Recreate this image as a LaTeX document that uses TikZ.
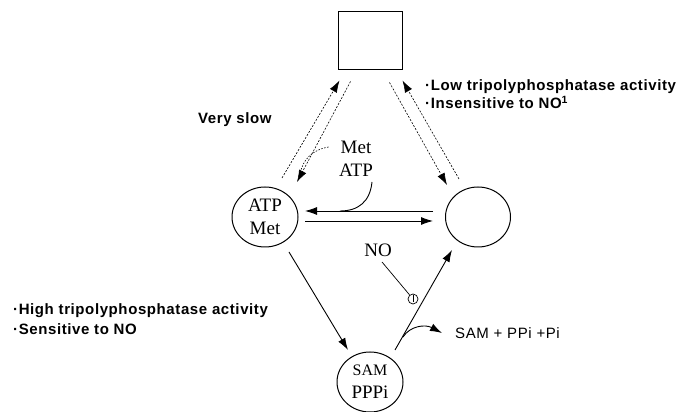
\documentclass[tikz,border=0pt]{standalone}
\usepackage{fontspec}
\setmainfont{Liberation Serif}
\newfontfamily\notefont{Liberation Sans}[LetterSpace=4]
\newfontfamily\prodfont{Liberation Sans}[LetterSpace=4]
\usetikzlibrary{arrows.meta,shapes.geometric}
\tikzset{
  pool/.style={ellipse,draw,line width=1pt,minimum width=66pt,minimum height=60pt,inner sep=0pt,align=center,font=\fontsize{19}{23}\selectfont},
  flow/.style={line width=0.9pt,-{Latex[length=12pt,width=8pt]}},
  slow/.style={line width=0.6pt,dash pattern=on 2pt off 1.5pt,-{Latex[length=12pt,width=8pt]}},
  note/.style={font=\notefont\bfseries\fontsize{15}{18}\selectfont,anchor=west,align=left,inner sep=0pt},
  chem/.style={font=\fontsize{19}{23}\selectfont,inner sep=0pt},
}
\begin{document}
\begin{tikzpicture}[x=1pt,y=1pt]
\useasboundingbox (0,0) rectangle (686,412);
\node[draw,line width=1pt,minimum width=64pt,minimum height=58pt] (sq) at (370,371) {};
\node[pool] (atp) at (265,195) {ATP\\Met};
\node[pool,minimum width=65pt] (free) at (478,195) {};
\node[pool] (sam) at (370,30) {{\fontsize{16}{22}\selectfont SAM}\\PPPi};

\node[chem] (met) at (356,265) {Met};
\node[chem] (atpin) at (356,242) {ATP};
\node[chem] (no) at (378,162) {NO};
\node[note] (slow) at (198,292) {Very slow};
\node[note] (low) at (425,318) {·Low tripolyphosphatase activity\\·Insensitive to NO\textsuperscript{1}};
\node[note] (high) at (13,93) {·High tripolyphosphatase activity\\[2pt]·Sensitive to NO};
\node[font=\prodfont\fontsize{15}{18}\selectfont,anchor=west,inner sep=0pt] (prod) at (455,79) {SAM + PPi +Pi};
\node[circle,draw,line width=0.7pt,minimum size=10pt,inner sep=0pt] (inh) at (413,113) {};

\draw[slow] ([shift={(17,39)}]atp.center) -- ([shift={(2,-10)}]sq.south west);
\draw[slow] ([shift={(13,-11)}]sq.south west) -- ([shift={(32,35)}]atp.center);
\draw[slow] ([shift={(-13,-12)}]sq.south east) -- ([shift={(-31,32)}]free.center);
\draw[slow] ([shift={(-19,38)}]free.center) -- ([shift={(0,-10)}]sq.south east);
\draw[line width=0.6pt,dash pattern=on 1.5pt off 1.5pt] ([xshift=-12pt]met.west) .. controls (312,262) and (302,252) .. ([shift={(35,42)}]atp.center);

\draw[flow] ([shift={(-45,6)}]free.center) -- ([shift={(40,6)}]atp.center);
\draw[flow] ([shift={(40,-4)}]atp.center) -- ([shift={(-45,-4)}]free.center);
\draw[line width=0.9pt] ([shift={(16,-12)}]atpin.center) .. controls (370,210) and (358,201) .. ([shift={(75,6)}]atp.center);
\draw[flow] ([shift={(24,-35)}]atp.center) -- ([shift={(-22,32)}]sam.center);
\draw[flow] ([shift={(25,32)}]sam.center) -- ([shift={(-26,-33)}]free.center);
\draw[flow] ([shift={(33,45)}]sam.center) .. controls (410,86) and (425,88) .. ([xshift=-13pt]prod.west);
\draw[line width=0.7pt] ([shift={(4,-12)}]no.center) -- (inh);
\draw[line width=0.6pt] ([yshift=3.5pt]inh.center) -- ([yshift=-3.5pt]inh.center);
\end{tikzpicture}
\end{document}
